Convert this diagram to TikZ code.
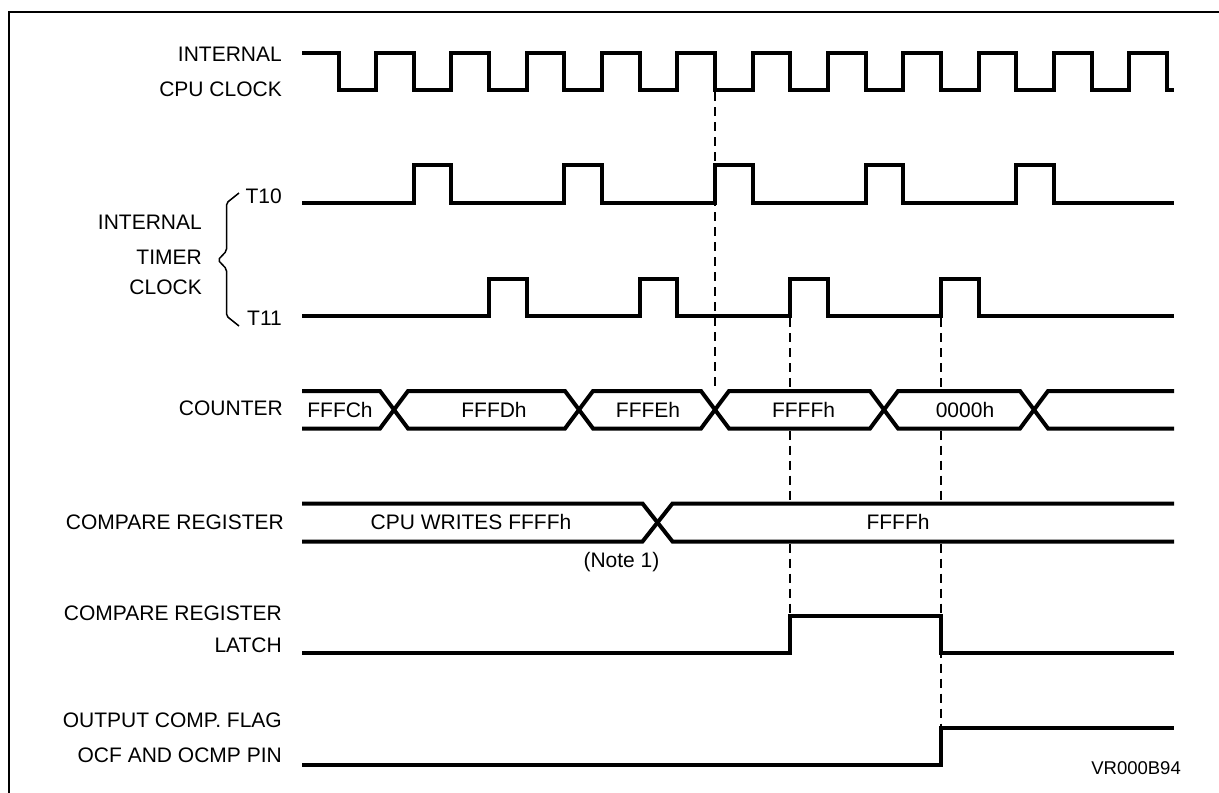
\documentclass[tikz,border=0pt]{standalone}
\usepackage{fontspec}
\setmainfont{Liberation Sans}
\newcommand{\sigfont}{\fontsize{21}{25}\selectfont}
\newcommand{\tagfont}{\fontsize{18.5}{22}\selectfont}
\tikzset{
  sig/.style={line width=4pt},
  guide/.style={line width=2pt,dash pattern=on 9pt off 6pt},
  lbl/.style={anchor=base east,inner sep=0pt,font=\sigfont},
  val/.style={anchor=base,inner sep=0pt,font=\sigfont}
}
\begin{document}
\begin{tikzpicture}[x=1pt,y=-1pt]
\useasboundingbox (0,0) rectangle (1219,793);
\clip (0,0) rectangle (1219,793);
\fill[white] (0,0) rectangle (1219,793);
\draw[line width=2pt] (9,800) -- (9,12) -- (1230,12);
% signal names
\node[lbl] (cpuA) at (282,61) {INTERNAL};
\node[lbl] (cpuB) at (282,96) {CPU CLOCK};
\node[lbl] (tA) at (282,203.5) {T10};
\node[lbl] (tB) at (282,325.5) {T11};
\node[lbl] (timA) at (202,229) {INTERNAL};
\node[lbl] (timB) at (202,264) {TIMER};
\node[lbl] (timC) at (202,294) {CLOCK};
\node[lbl] (cnt) at (283,415.5) {COUNTER};
\node[lbl] (cmp) at (284,529) {COMPARE REGISTER};
\node[lbl] (latA) at (282,620.5) {COMPARE REGISTER};
\node[lbl] (latB) at (282,652.5) {LATCH};
\node[lbl] (ocfA) at (282,727.5) {OUTPUT COMP. FLAG};
\node[lbl] (ocfB) at (282,762.5) {OCF AND OCMP PIN};
\draw[line width=1.5pt,rounded corners=2pt] (239,193) -- (226.5,203) -- (226.5,251) -- (218,260)
      -- (226.5,269) -- (226.5,316) -- (239,326);
% clocks
\draw[sig] (302,53) foreach \k in {0,...,10} { -- ({338.5+75.3*\k},53) -- ({338.5+75.3*\k},90)
      -- ({376.15+75.3*\k},90) -- ({376.15+75.3*\k},53) } -- (1166.8,53) -- (1166.8,90) -- (1174,90);
\draw[sig] (302,203) foreach \k in {1,3,5,7,9} { -- ({338.5+75.3*\k},203) -- ({338.5+75.3*\k},165)
      -- ({376.15+75.3*\k},165) -- ({376.15+75.3*\k},203) } -- (1174,203);
\draw[sig] (302,316) foreach \k in {2,4,6,8} { -- ({338.5+75.3*\k},316) -- ({338.5+75.3*\k},278.5)
      -- ({376.15+75.3*\k},278.5) -- ({376.15+75.3*\k},316) } -- (1174,316);
% counter bus
\draw[sig] (302,391) -- (380,391) -- (408,428.5) -- (565,428.5) -- (593,391) -- (701,391) -- (729,428.5)
      -- (870,428.5) -- (898,391) -- (1020,391) -- (1048,428.5) -- (1174,428.5);
\draw[sig] (302,428.5) -- (380,428.5) -- (408,391) -- (565,391) -- (593,428.5) -- (701,428.5) -- (729,391)
      -- (870,391) -- (898,428.5) -- (1020,428.5) -- (1048,391) -- (1174,391);
\node[val] (vC) at (340,417.5) {FFFCh};
\node[val] (vD) at (494,417.5) {FFFDh};
\node[val] (vE) at (648,417.5) {FFFEh};
\node[val] (vF) at (803.5,417.5) {FFFFh};
\node[val] (v0) at (965,417.5) {0000h};
% compare register bus
\draw[sig] (302,503.5) -- (642.5,503.5) -- (672.5,541.5) -- (1174,541.5);
\draw[sig] (302,541.5) -- (642.5,541.5) -- (672.5,503.5) -- (1174,503.5);
\node[val] (wr) at (471,529) {CPU WRITES FFFFh};
\node[val] (cv) at (898,529.5) {FFFFh};
\node[val] (note) at (621.5,567.5) {(Note 1)};
% latch and flag
\draw[sig] (302,653) -- (790.3,653) -- (790.3,616) -- (940.9,616) -- (940.9,653) -- (1174,653);
\draw[sig] (302,765) -- (940.9,765) -- (940.9,728) -- (1174,728);
% guides
\draw[guide] (715,92) -- (715,391);
\draw[guide] (790.3,318) -- (790.3,391) (790.3,430.5) -- (790.3,501.5) (790.3,543.5) -- (790.3,616);
\draw[guide] (940.9,318) -- (940.9,391) (940.9,430.5) -- (940.9,501.5) (940.9,543.5) -- (940.9,728);
\node[anchor=base east,inner sep=0pt,font=\tagfont] (ref) at (1181,774) {VR000B94};
\end{tikzpicture}
\end{document}
